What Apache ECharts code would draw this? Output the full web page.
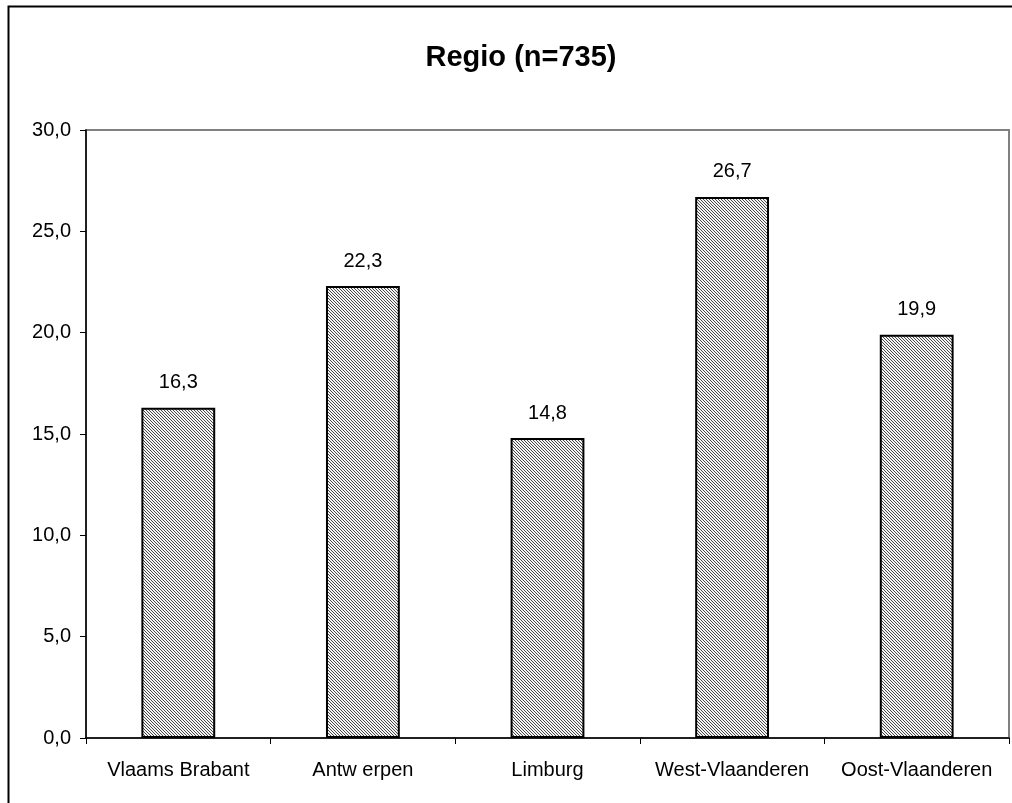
<!DOCTYPE html>
<html>
<head>
<meta charset="utf-8">
<script src="https://cdn.jsdelivr.net/npm/echarts@6/dist/echarts.min.js"></script>
<style>
  html, body { margin: 0; padding: 0; background: #fff; }
  #chart { width: 1012px; height: 803px; }
</style>
</head>
<body>
<div id="chart"></div>
<script>
  var regions = ['Vlaams Brabant', 'Antw erpen', 'Limburg', 'West-Vlaanderen', 'Oost-Vlaanderen'];
  var percents = [16.3, 22.3, 14.8, 26.7, 19.9];
  var yTicks = [0, 5, 10, 15, 20, 25, 30];

  // hatch fill, like the old excel pattern
  function hatch() {
    var c = document.createElement('canvas');
    c.width = 3; c.height = 3;
    var ctx = c.getContext('2d');
    ctx.fillStyle = '#f4f4f4';
    ctx.fillRect(0, 0, 3, 3);
    ctx.fillStyle = '#4a4a4a';
    for (var i = 0; i < 3; i++) ctx.fillRect(i, i, 1, 1);
    return c;
  }

  var fmt = function (v) { return v.toFixed(1).replace('.', ','); };

  var chart = echarts.init(document.getElementById('chart'));
  chart.setOption({
    backgroundColor: '#fff',
    animation: false,
    title: {
      text: 'Regio (n=735)',
      left: 516,
      top: 38,
      textAlign: 'center',
      textStyle: { fontFamily: 'Liberation Sans', fontWeight: 'bold', fontSize: 29, color: '#000' }
    },
    graphic: [{
      type: 'rect',
      shape: { x: 8.5, y: 6.5, width: 1020, height: 820 },
      style: { fill: null, stroke: '#000', lineWidth: 2 },
      silent: true
    }],
    grid: {
      left: 86, top: 130, right: 3, bottom: 65,
      show: true, borderColor: '#808080', borderWidth: 2, backgroundColor: '#fff'
    },
    xAxis: {
      type: 'category',
      data: regions,
      axisLine: { lineStyle: { color: '#000', width: 1.5 } },
      axisTick: { show: true, length: 6, lineStyle: { color: '#000' } },
      axisLabel: { fontFamily: 'Liberation Sans', fontSize: 20, color: '#000', margin: 22, interval: 0 }
    },
    yAxis: {
      type: 'value',
      min: yTicks[0],
      max: yTicks[yTicks.length - 1],
      interval: yTicks[1] - yTicks[0],
      splitLine: { show: false },
      axisLine: { show: true, lineStyle: { color: '#000', width: 1.5 } },
      axisTick: { show: true, length: 6, lineStyle: { color: '#000' } },
      axisLabel: { fontFamily: 'Liberation Sans', fontSize: 20, color: '#000', margin: 15, formatter: fmt }
    },
    series: [{
      type: 'bar',
      data: percents,
      barWidth: '40%',
      itemStyle: {
        color: { image: hatch(), repeat: 'repeat' },
        borderColor: '#000',
        borderWidth: 2
      },
      label: {
        show: true,
        position: 'top',
        distance: 15,
        fontFamily: 'Liberation Sans',
        fontSize: 20,
        color: '#000',
        formatter: function (p) { return fmt(p.value); }
      }
    }]
  });
</script>
</body>
</html>
